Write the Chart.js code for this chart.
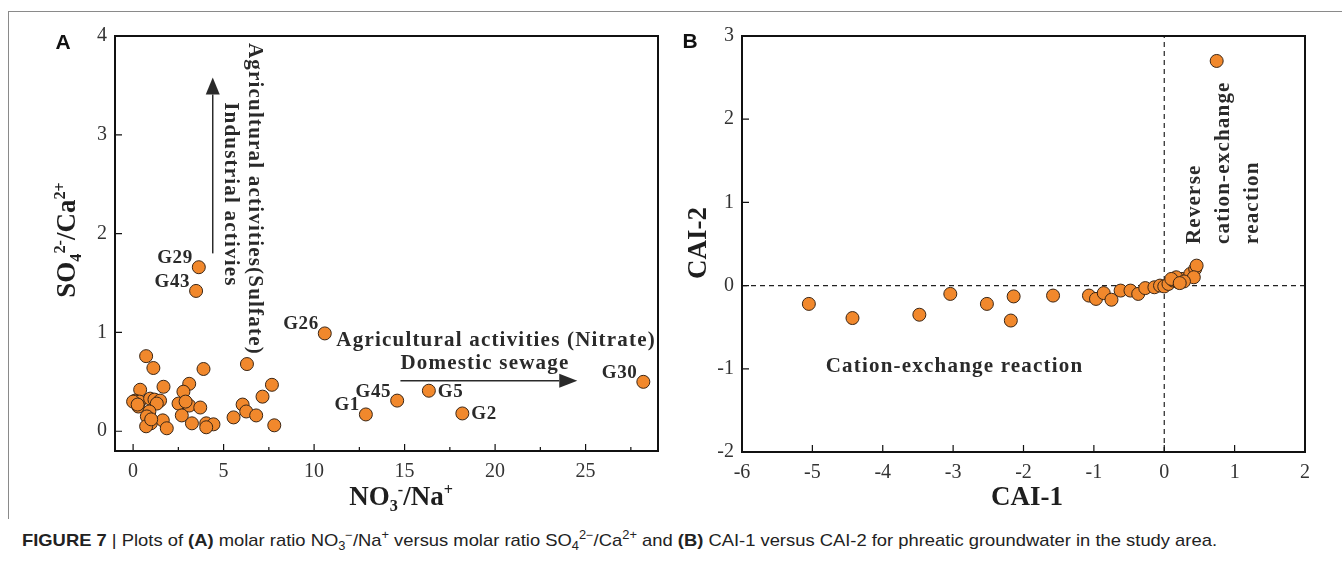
<!DOCTYPE html>
<html>
<head>
<meta charset="utf-8">
<script src="https://cdn.jsdelivr.net/npm/chart.js@4/dist/chart.umd.min.js"></script>
<style>
  body { margin: 0; background: #fff; }
  #wrap { position: relative; width: 1342px; height: 573px; overflow: hidden; background: #fff; }
  canvas { position: absolute; top: 0; }
  #frame { position: absolute; left: 8px; top: 11px; width: 1340px; height: 507px;
           border-top: 1.5px solid #8a8a8a; border-left: 1.5px solid #8a8a8a; }
  .t { position: absolute; white-space: nowrap; line-height: 1; color: #1e1e1e;
       transform: translate(-50%, -50%); }
  .serif { font-family: "Liberation Serif", "Times New Roman", serif; font-weight: bold; font-size: 27px; }
  .rot { transform: translate(-50%, -50%) rotate(-90deg); }
  .letter { font-family: "Liberation Sans", Arial, sans-serif; font-weight: bold; font-size: 21px; color: #111; }
  .t sub, .t sup { font-size: 60%; line-height: 0; }
  #caption { position: absolute; left: 22px; top: 532px; white-space: nowrap; line-height: 1;
             font-family: "Liberation Sans Narrow", "Liberation Sans", Arial, sans-serif; font-size: 17px; color: #222;
             transform-origin: left top; }
  #caption sub, #caption sup { font-size: 70%; line-height: 0; }
</style>
</head>
<body>
<div id="wrap">
  <div id="frame"></div>
  <canvas id="chartA" width="680" height="520" style="left:0"></canvas>
  <canvas id="chartB" width="662" height="520" style="left:680px"></canvas>

  <div class="t letter" style="left:63px; top:41px">A</div>
  <div class="t letter" style="left:690px; top:40px">B</div>
  <div class="t serif rot" style="left:66px; top:240px">SO<sub>4</sub><sup>2-</sup>/Ca<sup>2+</sup></div>
  <div class="t serif" style="left:401px; top:496px">NO<sub>3</sub><sup>-</sup>/Na<sup>+</sup></div>
  <div class="t serif rot" style="left:697px; top:243px">CAI-2</div>
  <div class="t serif" style="left:1027px; top:496px">CAI-1</div>

  <div id="caption"><b>FIGURE 7</b> | Plots of <b>(A)</b> molar ratio NO<sub>3</sub><sup>−</sup>/Na<sup>+</sup> versus molar ratio SO<sub>4</sub><sup>2−</sup>/Ca<sup>2+</sup> and <b>(B)</b> CAI-1 versus CAI-2 for phreatic groundwater in the study area.</div>
</div>

<script>
// Panel A: NO3-/Na+ vs SO4 2-/Ca2+ (unlabelled samples)
const ratioNO3Na = [0.72, 1.12, 3.89, 6.29, 7.67, 1.68, 3.10, 2.78, 0.39, 7.15, 0.11, 0.35, 0.94, 1.18, 1.49,
                    0.29, 1.31, 2.51, 3.10, 3.71, 6.05, 6.25, 6.80, 2.69, 0.90, 0.76, 0.98, 1.64, 3.25, 4.04,
                    4.44, 4.04, 5.55, 0.72, 1.86, 7.80, 0.00, 0.25, 2.90, 1.00];
const ratioSO4Ca = [0.76, 0.64, 0.63, 0.68, 0.47, 0.45, 0.48, 0.40, 0.42, 0.35, 0.31, 0.30, 0.33, 0.32, 0.31,
                    0.25, 0.28, 0.28, 0.26, 0.24, 0.27, 0.20, 0.16, 0.16, 0.20, 0.15, 0.08, 0.11, 0.08, 0.08,
                    0.07, 0.04, 0.14, 0.05, 0.03, 0.06, 0.30, 0.27, 0.30, 0.12];

// Panel A: labelled samples
const namedSamples = ['G29', 'G43', 'G26', 'G30', 'G5', 'G45', 'G1', 'G2'];
const namedNO3Na   = [3.63, 3.48, 10.59, 28.19, 16.34, 14.59, 12.86, 18.19];
const namedSO4Ca   = [1.66, 1.42, 0.99, 0.50, 0.41, 0.31, 0.17, 0.18];

// Panel B: chloro-alkaline indices
const cai1 = [0.745, -5.05, -4.43, -3.48, -3.04, -2.52, -2.14, -2.18, -1.58, -1.07, -0.97, -0.86, -0.75, -0.62,
              -0.48, -0.37, -0.27, -0.14, -0.06, 0.00, 0.06, 0.13, 0.20, 0.25, 0.37, 0.44, 0.46, 0.42, 0.17,
              0.10, 0.28, 0.22];
const cai2 = [2.70, -0.22, -0.39, -0.35, -0.10, -0.22, -0.13, -0.42, -0.12, -0.12, -0.16, -0.09, -0.17, -0.06,
              -0.06, -0.10, -0.03, -0.02, 0.00, -0.01, 0.02, 0.06, 0.04, 0.08, 0.14, 0.20, 0.24, 0.10, 0.10,
              0.08, 0.05, 0.03];

// tick labels
const xTicksA = [0, 5, 10, 15, 20, 25];
const xMinorA = [2.5, 7.5, 12.5, 17.5, 22.5, 27.5];
const yTicksA = [0, 1, 2, 3, 4];
const xTicksB = [-6, -5, -4, -3, -2, -1, 0, 1, 2];
const yTicksB = [-2, -1, 0, 1, 2, 3];

const ORANGE = '#f1882c';
const EDGE = '#3a2616';
const INK = '#2a2a2a';
const SERIF = '"Liberation Serif", "Times New Roman", serif';

function pts(xs, ys) {
    return xs.map((x, i) => ({ x: x, y: ys[i] }));
}

function pointDataset(data) {
    return {
        data: data,
        pointRadius: 6.5,
        pointHoverRadius: 6.5,
        pointBackgroundColor: ORANGE,
        pointBorderColor: EDGE,
        pointBorderWidth: 1
    };
}

function axis(min, max, ticks, size, isY) {
    return {
        type: 'linear',
        min: min,
        max: max,
        grid: { display: false, drawTicks: false },
        border: { display: false },
        ticks: {
            color: '#333',
            padding: isY ? 8 : 9,
            font: { family: SERIF, size: 20 },
            callback: v => String(v)
        },
        afterBuildTicks: s => { s.ticks = ticks.map(v => ({ value: v })); },
        afterFit: s => { if (isY) s.width = size; else s.height = size; }
    };
}

function arrow(ctx, x1, y1, x2, y2, len, half) {
    const a = Math.atan2(y2 - y1, x2 - x1);
    const bx = x2 - len * Math.cos(a), by = y2 - len * Math.sin(a);
    ctx.beginPath();
    ctx.moveTo(x1, y1);
    ctx.lineTo(bx, by);
    ctx.stroke();
    ctx.beginPath();
    ctx.moveTo(x2, y2);
    ctx.lineTo(bx + half * Math.sin(a), by - half * Math.cos(a));
    ctx.lineTo(bx - half * Math.sin(a), by + half * Math.cos(a));
    ctx.closePath();
    ctx.fill();
}

function drawFrameAndTicks(chart, xMajor, xMinor, yMajor) {
    const { ctx, chartArea: a, scales: { x, y } } = chart;
    ctx.save();
    ctx.strokeStyle = '#111';
    ctx.lineWidth = 1.2;
    ctx.beginPath();
    xMajor.forEach(v => { const p = x.getPixelForValue(v); ctx.moveTo(p, a.bottom); ctx.lineTo(p, a.bottom - 7); });
    xMinor.forEach(v => { const p = x.getPixelForValue(v); ctx.moveTo(p, a.bottom); ctx.lineTo(p, a.bottom - 4); });
    yMajor.forEach(v => { const p = y.getPixelForValue(v); ctx.moveTo(a.left, p); ctx.lineTo(a.left + 7, p); });
    ctx.stroke();
    ctx.lineWidth = 2;
    ctx.strokeRect(a.left, a.top, a.right - a.left, a.bottom - a.top);
    ctx.restore();
}

function vText(ctx, text, px, py, angle, align) {
    ctx.save();
    ctx.translate(px, py);
    ctx.rotate(angle);
    ctx.textAlign = align;
    ctx.textBaseline = 'middle';
    ctx.fillText(text, 0, 0);
    ctx.restore();
}

const annotationsA = {
    id: 'annotationsA',
    afterDatasetsDraw(chart) {
        const { ctx, scales: { x, y } } = chart;
        const X = v => x.getPixelForValue(v), Y = v => y.getPixelForValue(v);
        drawFrameAndTicks(chart, xTicksA, xMinorA, yTicksA);

        ctx.save();
        ctx.fillStyle = INK;
        ctx.strokeStyle = INK;
        ctx.lineWidth = 1.5;
        // arrows
        arrow(ctx, X(4.4), Y(1.8), X(4.4), Y(3.58), 17, 7);
        arrow(ctx, X(14.77), Y(0.51), X(24.54), Y(0.51), 18, 7);

        ctx.font = 'bold 21px ' + SERIF;
        ctx.letterSpacing = '1.2px';
        vText(ctx, 'Agricultural activities(Sulfate)', X(6.68), Y(3.93), Math.PI / 2, 'left');
        vText(ctx, 'Industrial activies', X(5.37), Y(3.33), Math.PI / 2, 'left');
        ctx.textBaseline = 'middle';
        ctx.textAlign = 'left';
        ctx.fillText('Agricultural activities (Nitrate)', X(11.23), Y(0.92));
        ctx.fillText('Domestic sewage', X(14.77), Y(0.68));

        // sample labels
        ctx.font = 'bold 19px ' + SERIF;
        ctx.letterSpacing = '0.6px';
        const rightSide = ['G5', 'G2'];
        namedSamples.forEach((name, i) => {
            const px = X(namedNO3Na[i]), py = Y(namedSO4Ca[i]);
            if (rightSide.includes(name)) {
                ctx.textAlign = 'left';
                ctx.fillText(name, px + 9, py + 1);
            } else {
                ctx.textAlign = 'right';
                ctx.fillText(name, px - 6, py - 9);
            }
        });
        ctx.restore();
    }
};

const annotationsB = {
    id: 'annotationsB',
    beforeDatasetsDraw(chart) {
        const { ctx, scales: { x, y } } = chart;
        const X = v => x.getPixelForValue(v), Y = v => y.getPixelForValue(v);
        ctx.save();
        ctx.strokeStyle = '#222';
        ctx.lineWidth = 1.2;
        ctx.setLineDash([5, 4]);
        ctx.beginPath();
        ctx.moveTo(X(-6), Y(0)); ctx.lineTo(X(2), Y(0));
        ctx.moveTo(X(0), Y(-2)); ctx.lineTo(X(0), Y(3));
        ctx.stroke();
        ctx.restore();
    },
    afterDatasetsDraw(chart) {
        const { ctx, scales: { x, y } } = chart;
        const X = v => x.getPixelForValue(v), Y = v => y.getPixelForValue(v);
        drawFrameAndTicks(chart, xTicksB, [], yTicksB);
        ctx.save();
        ctx.fillStyle = INK;
        ctx.font = 'bold 21px ' + SERIF;
        ctx.letterSpacing = '1.2px';
        ctx.textAlign = 'left';
        ctx.textBaseline = 'middle';
        ctx.fillText('Cation-exchange reaction', X(-4.81), Y(-0.97));
        vText(ctx, 'Reverse', X(0.43), Y(0.5), -Math.PI / 2, 'left');
        vText(ctx, 'cation-exchange', X(0.85), Y(0.5), -Math.PI / 2, 'left');
        vText(ctx, 'reaction', X(1.25), Y(0.5), -Math.PI / 2, 'left');
        ctx.restore();
    }
};

const common = {
    responsive: false,
    animation: false,
    events: [],
    plugins: { legend: { display: false }, tooltip: { enabled: false } }
};

new Chart(document.getElementById('chartA'), {
    type: 'scatter',
    data: { datasets: [pointDataset(pts(ratioNO3Na, ratioSO4Ca)), pointDataset(pts(namedNO3Na, namedSO4Ca))] },
    options: Object.assign({}, common, {
        layout: { padding: { left: 0, top: 36, right: 22, bottom: 0 } },
        scales: { x: axis(-1, 29, xTicksA, 69, false), y: axis(-0.2, 4, yTicksA, 115, true) }
    }),
    plugins: [annotationsA]
});

new Chart(document.getElementById('chartB'), {
    type: 'scatter',
    data: { datasets: [pointDataset(pts(cai1, cai2))] },
    options: Object.assign({}, common, {
        layout: { padding: { left: 0, top: 36, right: 37, bottom: 0 } },
        scales: { x: axis(-6, 2, xTicksB, 68, false), y: axis(-2, 3, yTicksB, 62, true) }
    }),
    plugins: [annotationsB]
});

// stretch the caption to the width it has in the figure
const cap = document.getElementById('caption');
cap.style.transform = 'scaleX(' + (1195 / cap.getBoundingClientRect().width) + ')';
</script>
</body>
</html>
